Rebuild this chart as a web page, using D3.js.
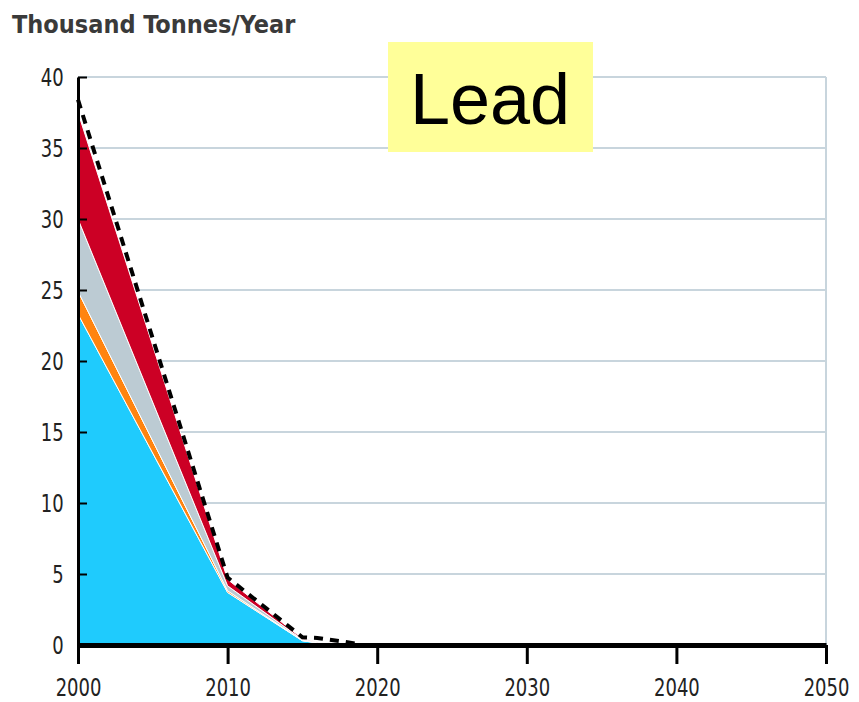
<!DOCTYPE html>
<html>
<head>
<meta charset="utf-8">
<script src="https://cdn.jsdelivr.net/npm/d3@7"></script>
<style>
  body { margin: 0; background: #fff; }
  .tick text { font-family: "DejaVu Sans Condensed", "DejaVu Sans", sans-serif; }
</style>
</head>
<body>
<div id="chart"></div>
<script>
// chart data
var years = [2000, 2010, 2015, 2016, 2018, 2019, 2050];
var cyanSeries   = [23.3, 3.7, 0.3, 0.15, 0.05, 0, 0];
var orangeSeries = [1.6, 0.12, 0.02, 0.01, 0, 0, 0];
var greySeries   = [5.1, 0.35, 0.06, 0.03, 0.01, 0, 0];
var redSeries    = [7.5, 0.45, 0.07, 0.03, 0.01, 0, 0];
var totalLine    = [38.4, 4.75, 0.55, 0.5, 0.2, 0, 0];
var xTicks = [2000, 2010, 2020, 2030, 2040, 2050];
var yTicks = [0, 5, 10, 15, 20, 25, 30, 35, 40];

var seriesKeys = ["cyan", "orange", "grey", "red"];
var seriesColors = { cyan: "#1fcbfd", orange: "#ff8410", grey: "#bccbd3", red: "#cc0025" };

var width = 859, height = 702;
var svg = d3.select("#chart").append("svg")
    .attr("width", width)
    .attr("height", height);

var x = d3.scaleLinear().domain([2000, 2050]).range([78, 826]);
var y = d3.scaleLinear().domain([0, 40]).range([645, 77]);

// build table for the stack
var table = years.map(function (yr, i) {
    return { year: yr, cyan: cyanSeries[i], orange: orangeSeries[i], grey: greySeries[i], red: redSeries[i], total: totalLine[i] };
});

// grid lines
svg.append("g").selectAll("line")
    .data(yTicks.filter(function (d) { return d > 0; }))
    .enter().append("line")
    .attr("x1", x(2000)).attr("x2", x(2050))
    .attr("y1", function (d) { return y(d); })
    .attr("y2", function (d) { return y(d); })
    .attr("stroke", "#c8d5dd")
    .attr("stroke-width", 2);
svg.append("line")
    .attr("x1", x(2050)).attr("x2", x(2050))
    .attr("y1", y(40)).attr("y2", y(0))
    .attr("stroke", "#c8d5dd")
    .attr("stroke-width", 2);

// stacked areas
var stack = d3.stack().keys(seriesKeys);
var layers = stack(table);
var area = d3.area()
    .x(function (d) { return x(d.data.year); })
    .y0(function (d) { return y(d[0]); })
    .y1(function (d) { return y(d[1]); });

svg.append("g").selectAll("path")
    .data(layers)
    .enter().append("path")
    .attr("d", area)
    .attr("fill", function (d) { return seriesColors[d.key]; })
    .attr("stroke", "#fff")
    .attr("stroke-width", 1);

// dashed total line
var line = d3.line()
    .x(function (d) { return x(d.year); })
    .y(function (d) { return y(d.total); });
svg.append("path")
    .datum(table)
    .attr("d", line)
    .attr("fill", "none")
    .attr("stroke", "#000")
    .attr("stroke-width", 4)
    .attr("stroke-dasharray", "9,7");

// x axis
var xAxis = svg.append("g")
    .attr("transform", "translate(0," + y(0) + ")")
    .call(d3.axisBottom(x).tickValues(xTicks).tickFormat(d3.format("d")).tickSize(19).tickSizeOuter(0).tickPadding(14));
xAxis.select(".domain").attr("stroke-width", 5);
xAxis.selectAll(".tick line").attr("stroke-width", 3);
// the original face is tall and narrow, so squeeze the labels sideways
xAxis.selectAll(".tick text").attr("font-size", 25).attr("fill", "#222")
    .attr("transform", "scale(0.8,1)");

// y axis
var yAxis = svg.append("g")
    .attr("transform", "translate(" + x(2000) + ",0)")
    .call(d3.axisLeft(y).tickValues(yTicks).tickSize(-9).tickSizeOuter(0).tickPadding(18));
yAxis.select(".domain").attr("stroke-width", 3);
yAxis.selectAll(".tick line").attr("stroke-width", 2);
yAxis.selectAll(".tick text").attr("font-size", 25).attr("fill", "#222")
    .attr("transform", "scale(0.8,1)");

// unit label
svg.append("text")
    .attr("x", 12)
    .attr("y", 33)
    .attr("font-family", "'DejaVu Sans Condensed', 'DejaVu Sans', sans-serif")
    .attr("font-weight", "bold")
    .attr("font-size", 25)
    .attr("fill", "#3a3a3a")
    .text("Thousand Tonnes/Year");

// title box
svg.append("rect")
    .attr("x", 388).attr("y", 42)
    .attr("width", 205).attr("height", 110)
    .attr("fill", "#ffff99");
svg.append("text")
    .attr("x", 490)
    .attr("y", 124)
    .attr("text-anchor", "middle")
    .attr("font-family", "'Liberation Sans', Arial, sans-serif")
    .attr("font-size", 72)
    .attr("fill", "#000")
    .text("Lead");
</script>
</body>
</html>
